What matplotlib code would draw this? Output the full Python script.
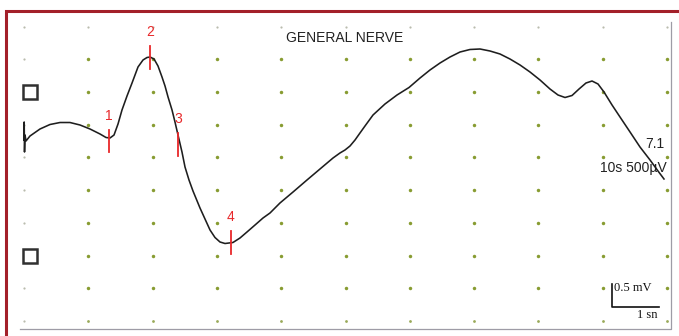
import numpy as np
import matplotlib
matplotlib.use("Agg")
import matplotlib.pyplot as plt
from matplotlib.lines import Line2D

plt.rcParams['font.family'] = ['Liberation Sans', 'DejaVu Sans']

# Trace, in screen divisions (x: time divisions, y: amplitude divisions)
trace_t = [0.000, 0.003, 0.008, 0.016, 0.031, 0.093, 0.249, 0.404, 0.560, 0.715,
           0.871, 1.026, 1.182, 1.275, 1.337, 1.400, 1.462, 1.524, 1.602, 1.680,
           1.773, 1.851, 1.913, 1.960, 2.022, 2.084, 2.146, 2.193, 2.240, 2.302,
           2.348, 2.395, 2.457, 2.504, 2.566, 2.628, 2.737, 2.815, 2.893, 2.970,
           3.048, 3.126, 3.250, 3.359, 3.468, 3.593, 3.717, 3.826, 3.981, 4.184,
           4.401, 4.603, 4.806, 4.914, 4.992, 5.070, 5.148, 5.225, 5.303, 5.428,
           5.614, 5.801, 5.988, 6.159, 6.314, 6.470, 6.625, 6.781, 6.936, 7.092,
           7.247, 7.403, 7.558, 7.714, 7.869, 8.025, 8.180, 8.305, 8.414, 8.523,
           8.632, 8.740, 8.834, 8.927, 9.020, 9.145, 9.269, 9.425, 9.580, 9.736,
           9.860, 9.953]
trace_v = [5.535, 6.086, 5.168, 5.688, 5.505, 5.657, 5.872, 6.009, 6.070, 6.070,
           5.994, 5.872, 5.719, 5.612, 5.596, 5.688, 6.024, 6.453, 6.881, 7.278,
           7.768, 7.982, 8.058, 8.073, 8.012, 7.798, 7.462, 7.187, 6.850, 6.453,
           6.086, 5.688, 5.168, 4.709, 4.312, 3.976, 3.456, 3.119, 2.783, 2.554,
           2.416, 2.370, 2.401, 2.538, 2.722, 2.936, 3.150, 3.303, 3.609, 3.945,
           4.312, 4.648, 4.985, 5.138, 5.229, 5.352, 5.535, 5.749, 5.963, 6.300,
           6.636, 6.911, 7.141, 7.431, 7.676, 7.890, 8.073, 8.226, 8.303, 8.318,
           8.257, 8.165, 8.012, 7.829, 7.615, 7.370, 7.095, 6.911, 6.835, 6.896,
           7.095, 7.278, 7.339, 7.248, 7.003, 6.606, 6.239, 5.780, 5.321, 4.924,
           4.587, 4.343]

# Cursor markers
marker_labels = ['1', '2', '3', '4']
marker_t = [1.322, 1.960, 2.396, 3.219]
marker_level = [5.505, 8.058, 5.398, 2.401]

title_text = 'GENERAL NERVE'
gain_text = '7.1'
setting_text = '10s 500µV'
scale_v_text = '0.5 mV'
scale_t_text = '1 sn'

fig = plt.figure(figsize=(6.79, 3.36), dpi=100)
ax = fig.add_axes([0, 0, 1, 1])
ax.set_xlim(-0.3733, 10.1866)
ax.set_ylim(-0.4587, 9.8165)
ax.axis('off')

# Dot grid
cols = np.arange(0, 11)
rows = np.arange(0, 10)
for c in cols:
    for r in rows:
        faint = (c == 0) or (r == 9)
        if faint:
            ax.plot(c, r, 'o', ms=1.6, color='#b9bcae', mec='none', zorder=1)
        elif r == 0:
            ax.plot(c, r, 'o', ms=2.0, color='#9aaa5a', mec='none', zorder=1)
        else:
            ax.plot(c, r, 'o', ms=2.5, color='#889c32', mec='none', zorder=1)

# Trace
ax.plot(trace_t, trace_v, color='#1e1e1e', lw=1.15, zorder=3,
        solid_joinstyle='round')

# Cursor ticks and labels
half = 0.35
for lab, t, lv in zip(marker_labels, marker_t, marker_level):
    ax.plot([t, t], [lv - half, lv + half], color='#e8282a', lw=1.3, zorder=4)
    ax.text(t, lv + half + 0.42, lab, color='#e8282a', fontsize=10,
            ha='center', va='center', zorder=4)

# Channel squares
ax.plot([0.093, 0.093], [7.003, 2.003], 's', ms=10, mfc='white',
        mec='#303030', mew=1.8, ls='none', zorder=4)

# Texts
ax.text(4.075, 8.654, title_text, fontsize=10, color='#222222', ha='left', va='center')
ax.text(9.953, 5.413, gain_text, fontsize=10, color='#222222', ha='right', va='center')
ax.text(10.0, 4.679, setting_text, fontsize=10, color='#222222', ha='right', va='center', zorder=2)

# Scale bar
ax.plot([9.137, 9.137, 9.876], [1.131, 0.428, 0.428], color='#111111', lw=1.2, zorder=4)
ax.text(9.176, 1.009, scale_v_text, fontsize=9, family='Liberation Serif',
        color='#111111', ha='left', va='center')
ax.text(9.86, 0.183, scale_t_text, fontsize=9, family='Liberation Serif',
        color='#111111', ha='right', va='center')

# Inner gray frame (right and bottom)
fig.add_artist(Line2D([0.98822, 0.98822, 0.02946], [0.9345, 0.0208, 0.0208],
                      transform=fig.transFigure, color='#9e9ca6', lw=0.9))
# Outer red frame (top and left)
fig.add_artist(Line2D([1.0, 0.00957, 0.00957], [0.9664, 0.9664, 0.0],
                      transform=fig.transFigure, color='#a3202a', lw=2.2,
                      solid_joinstyle='miter'))

fig.savefig('out.png', dpi=100, facecolor='white')
